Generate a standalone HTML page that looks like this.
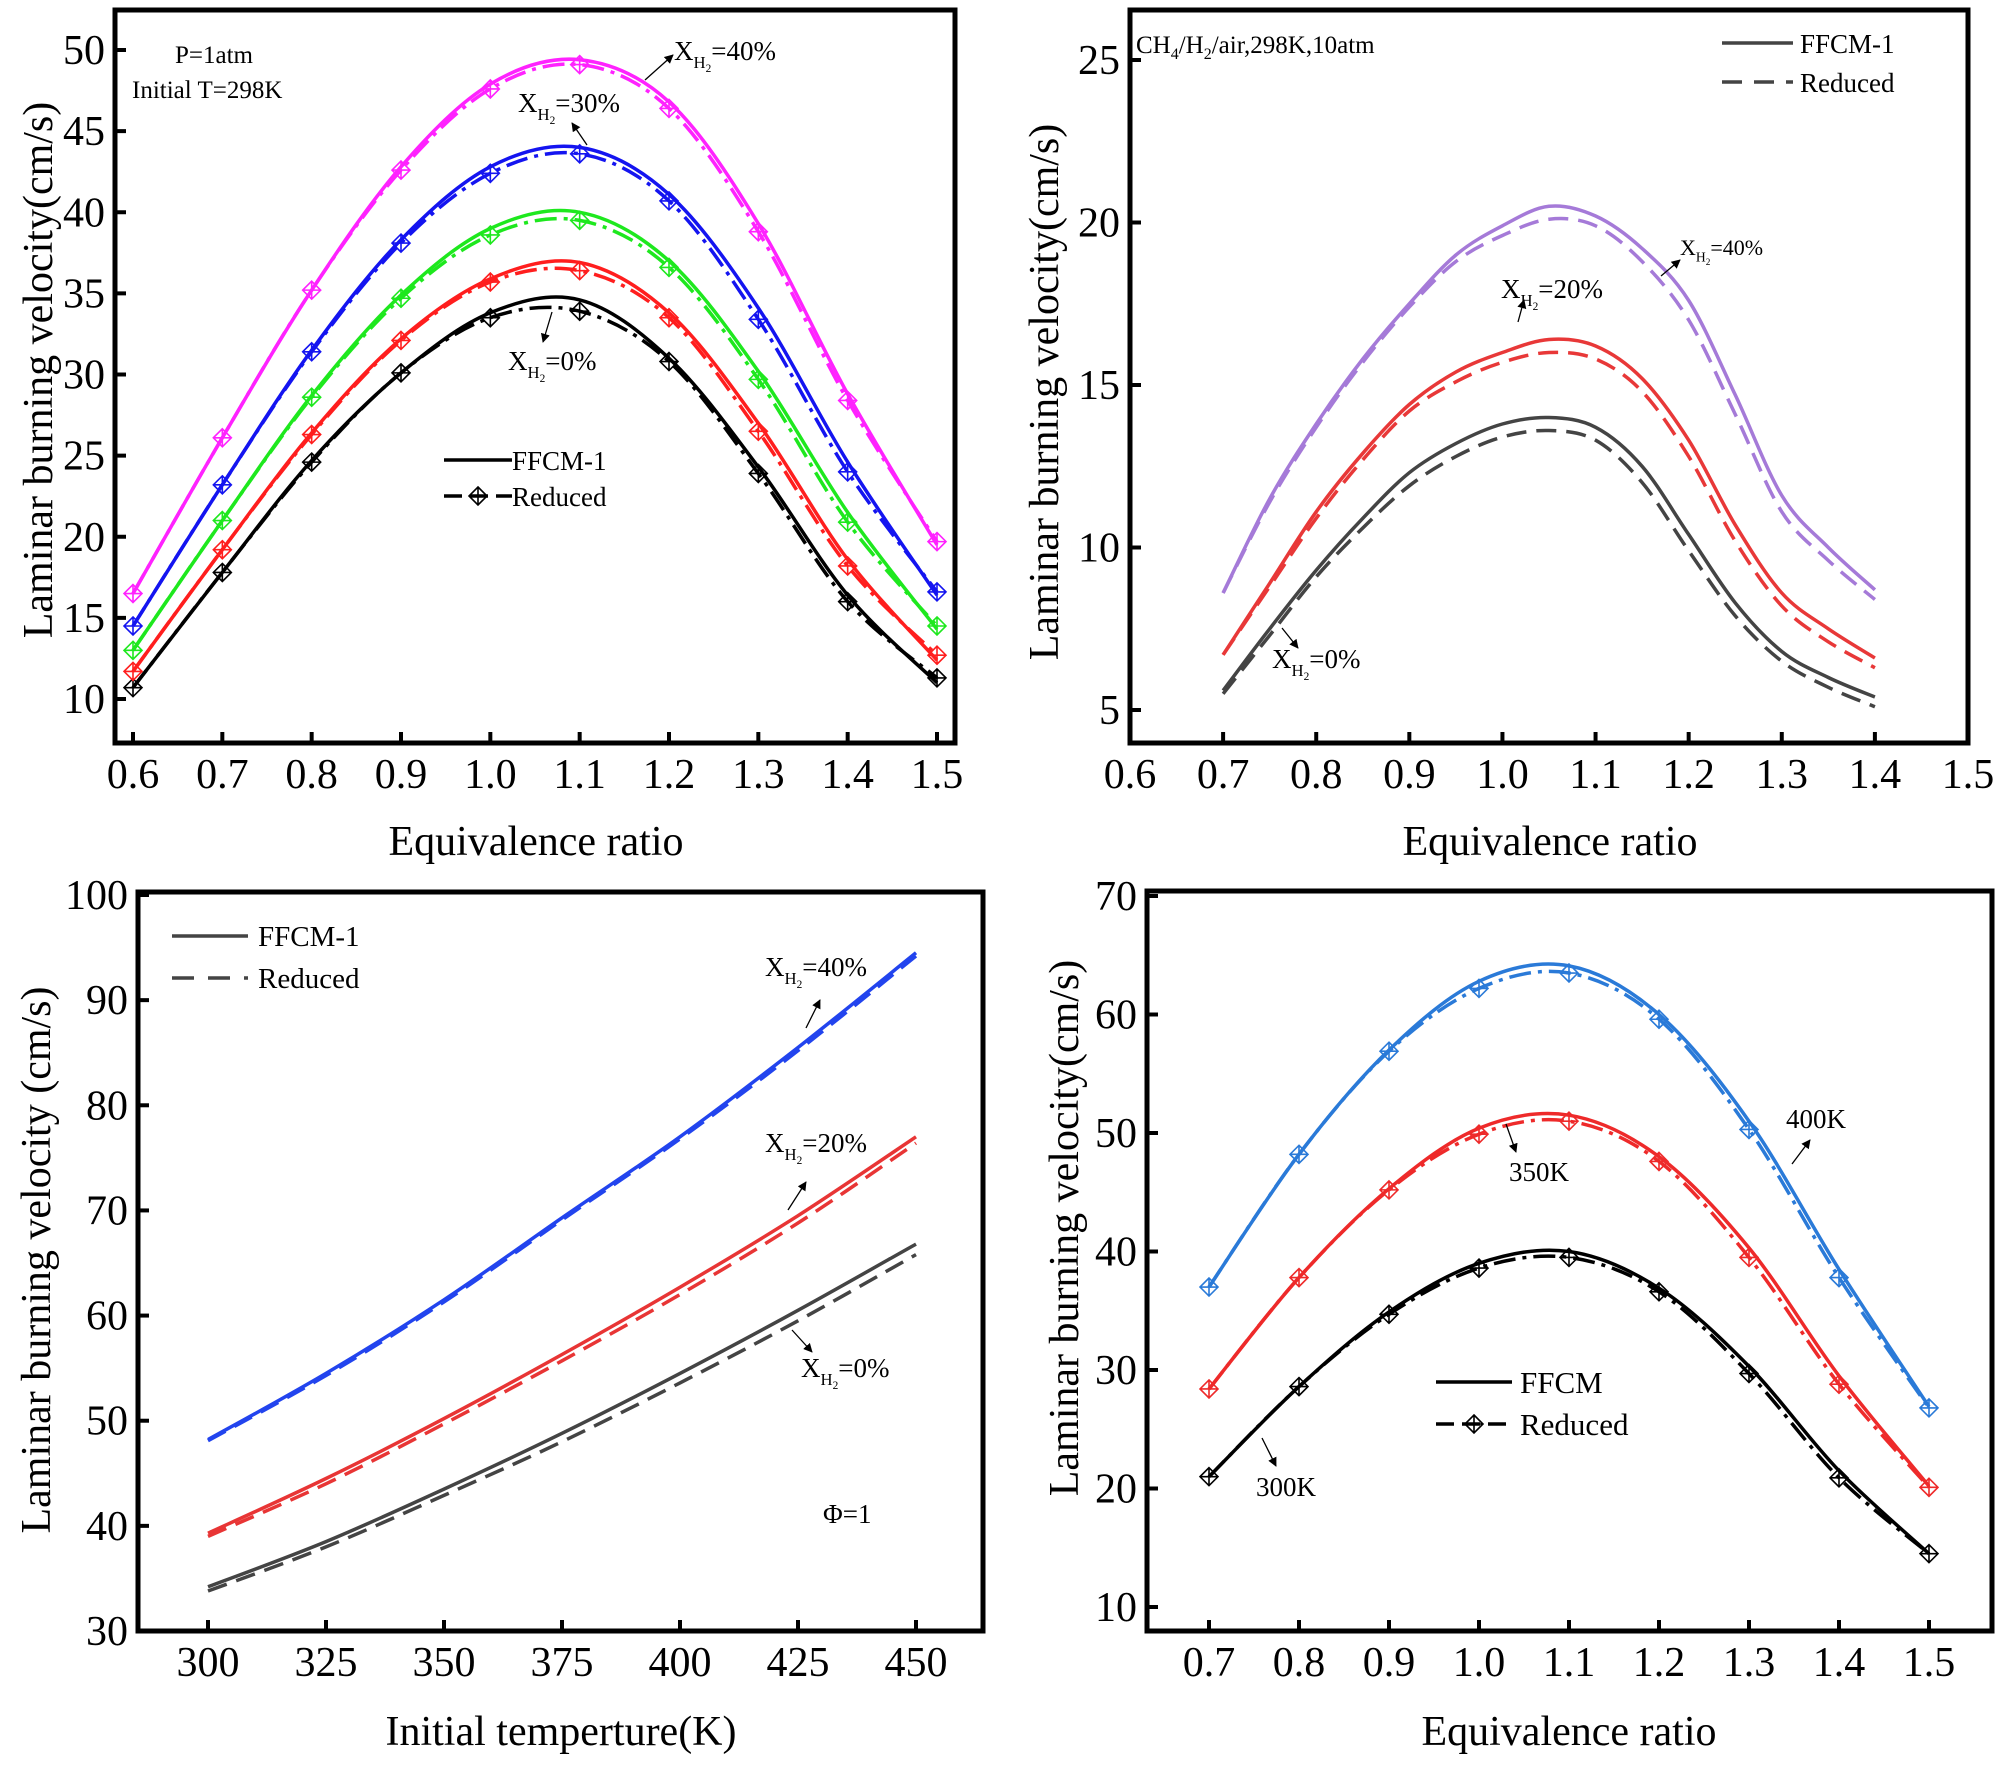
<!DOCTYPE html>
<html><head><meta charset="utf-8">
<style>
html,body{margin:0;padding:0;background:#fff;}
svg{display:block;font-family:"Liberation Serif","DejaVu Serif",serif;}
svg text{font-family:"Liberation Serif","DejaVu Serif",serif;}
</style></head>
<body>
<svg id="fig" width="2000" height="1765" viewBox="0 0 2000 1765" xmlns="http://www.w3.org/2000/svg" font-family="Liberation Serif, DejaVu Serif, serif">
<defs>
<marker id="ah" viewBox="0 0 10 10" refX="9" refY="5" markerWidth="7" markerHeight="7" orient="auto"><path d="M0,0 L10,5 L0,10 z" fill="#000"/></marker>
</defs>
</svg>
<script>
// ---------- Panel A data (1 atm, 298K) ----------
const phiA = [0.6,0.7,0.8,0.9,1.0,1.1,1.2,1.3,1.4,1.5];
const a0F = [10.7,17.8,24.7,30.1,33.8,34.6,31.0,24.3,16.4,11.0];
const a0R = [10.7,17.8,24.6,30.1,33.5,33.9,30.8,23.9,16.0,11.3];
const a20F = [11.7,19.2,26.4,32.2,35.9,36.9,33.8,27.0,18.6,12.4];
const a20R = [11.7,19.2,26.3,32.1,35.7,36.4,33.5,26.5,18.2,12.7];
const a10F = [13.0,21.0,28.7,34.9,39.0,40.0,37.0,30.2,21.5,14.3];
const a10R = [13.0,21.0,28.6,34.7,38.6,39.5,36.6,29.7,20.9,14.5];
const a30F = [14.5,23.2,31.5,38.3,42.8,44.0,41.1,34.1,24.6,16.4];
const a30R = [14.5,23.2,31.4,38.1,42.4,43.6,40.7,33.4,24.0,16.6];
const a40F = [16.5,26.1,35.2,42.8,47.9,49.4,46.8,39.3,28.8,19.5];
const a40R = [16.5,26.1,35.2,42.6,47.6,49.1,46.4,38.8,28.4,19.7];
const ticksAx = ["0.6","0.7","0.8","0.9","1.0","1.1","1.2","1.3","1.4","1.5"];
const ticksAy = [10,15,20,25,30,35,40,45,50];

// ---------- Panel B data (10 atm) ----------
const phiB = [0.7,0.75,0.8,0.85,0.9,0.95,1.0,1.05,1.1,1.15,1.2,1.25,1.3,1.35,1.4];
const b0F = [5.6,7.5,9.3,10.9,12.3,13.2,13.8,14.0,13.7,12.5,10.4,8.3,6.8,6.0,5.4];
const b0R = [5.5,7.3,9.1,10.6,11.9,12.8,13.4,13.6,13.3,12.0,9.9,7.9,6.5,5.7,5.1];
const b20F = [6.7,8.9,11.1,12.9,14.4,15.4,16.0,16.4,16.2,15.2,13.3,10.7,8.6,7.5,6.6];
const b20R = [6.7,8.8,10.9,12.7,14.2,15.1,15.7,16.0,15.8,14.8,12.8,10.2,8.2,7.1,6.3];
const b40F = [8.6,11.5,13.8,15.8,17.5,19.0,19.9,20.5,20.2,19.2,17.6,14.7,11.6,10.0,8.7];
const b40R = [8.6,11.4,13.7,15.7,17.4,18.8,19.6,20.1,19.9,18.8,17.0,14.1,11.1,9.6,8.4];
const ticksBx = ["0.6","0.7","0.8","0.9","1.0","1.1","1.2","1.3","1.4","1.5"];
const ticksBy = [5,10,15,20,25];

// ---------- Panel C data (temperature) ----------
const tempC = [300,325,350,375,400,425,450];
const c40F = [48.2,54.5,61.5,69.3,77.0,85.5,94.5];
const c40R = [48.1,54.3,61.3,69.1,76.8,85.2,94.2];
const c20F = [39.3,44.5,50.2,56.3,62.7,69.5,77.0];
const c20R = [39.0,44.0,49.7,55.7,62.0,68.8,76.4];
const c0F = [34.2,38.5,43.5,48.8,54.5,60.5,66.8];
const c0R = [33.8,38.0,42.9,48.0,53.6,59.5,65.8];
const ticksCx = [300,325,350,375,400,425,450];
const ticksCy = [30,40,50,60,70,80,90,100];

// ---------- Panel D data (temperatures vs phi) ----------
const phiD = [0.7,0.8,0.9,1.0,1.1,1.2,1.3,1.4,1.5];
const d400F = [37.0,48.2,57.0,62.8,64.1,60.0,51.0,38.5,26.9];
const d400R = [37.0,48.2,56.9,62.2,63.5,59.6,50.3,37.8,26.8];
const d350F = [28.4,37.8,45.3,50.4,51.5,48.0,40.3,29.5,20.2];
const d350R = [28.4,37.8,45.2,49.9,51.0,47.6,39.5,28.8,20.1];
const d300F = [21.0,28.6,34.9,39.0,40.0,36.9,30.3,21.5,14.5];
const d300R = [21.0,28.6,34.7,38.6,39.5,36.6,29.7,20.9,14.5];
const ticksDx = ["0.7","0.8","0.9","1.0","1.1","1.2","1.3","1.4","1.5"];
const ticksDy = [10,20,30,40,50,60,70];

const svg = document.getElementById('fig');
const NS = 'http://www.w3.org/2000/svg';
const FONT = '"Liberation Serif", "DejaVu Serif", serif';
function mk(tag, attrs, parent){
  const e = document.createElementNS(NS, tag);
  for (const k in attrs) e.setAttribute(k, attrs[k]);
  (parent||svg).appendChild(e);
  return e;
}
function scale(d0,d1,r0,r1){ return v => r0 + (v-d0)*(r1-r0)/(d1-d0); }
function smoothPath(pts){
  let d = 'M'+pts[0][0].toFixed(1)+','+pts[0][1].toFixed(1);
  for (let i=0;i<pts.length-1;i++){
    const p0=pts[i-1]||pts[i], p1=pts[i], p2=pts[i+1], p3=pts[i+2]||p2;
    const c1=[p1[0]+(p2[0]-p0[0])/6, p1[1]+(p2[1]-p0[1])/6];
    const c2=[p2[0]-(p3[0]-p1[0])/6, p2[1]-(p3[1]-p1[1])/6];
    d+=' C'+c1[0].toFixed(1)+','+c1[1].toFixed(1)+' '+c2[0].toFixed(1)+','+c2[1].toFixed(1)+' '+p2[0].toFixed(1)+','+p2[1].toFixed(1);
  }
  return d;
}
function diamond(g,x,y,color,s){
  s=s||9;
  mk('path',{d:`M${x},${y-s} L${x+s},${y} L${x},${y+s} L${x-s},${y} Z M${x-s},${y} L${x+s},${y} M${x},${y-s} L${x},${y+s}`,fill:'none',stroke:color,'stroke-width':1.6},g);
}
function series(g,xs,ys,X,Y,color,dash,markers,name){
  const pts = xs.map((v,i)=>[X(v),Y(ys[i])]);
  const p = mk('path',{d:smoothPath(pts),fill:'none',stroke:color,'stroke-width':3.5},g);
  
  
  if (dash) p.setAttribute('stroke-dasharray', dash);
  if (markers) pts.forEach(q=>diamond(g,q[0],q[1],color));
}
function text(g,x,y,str,size,anchor,name){
  const t = mk('text',{x:x,y:y,'font-size':size,'text-anchor':anchor||'start',fill:'#000','font-family':FONT},g);
  t.textContent = str;
  
  
  return t;
}
function xh2(g,x,y,pct,size,name){
  const t = mk('text',{x:x,y:y,'font-size':size,fill:'#000','font-family':FONT},g);
  
  
  t.innerHTML = 'X<tspan font-size="'+(size*0.62)+'" dy="'+(size*0.3)+'">H</tspan><tspan font-size="'+(size*0.42)+'" dy="'+(size*0.15)+'">2</tspan><tspan dy="'+(-size*0.45)+'">='+pct+'</tspan>';
}
function arrow(g,x1,y1,x2,y2,name){
  const l = mk('line',{x1:x1,y1:y1,x2:x2,y2:y2,stroke:'#000','stroke-width':1.3,'marker-end':'url(#ah)'},g);
  
  
}
function axes(g,fr,X,Y,xt,yt,xlab,ylab,ytitlePos,xtitlePos,xtickVals){
  const f = mk('rect',{x:fr.l,y:fr.t,width:fr.r-fr.l,height:fr.b-fr.t,fill:'none',stroke:'#000','stroke-width':5},g);
  
  
  xt.forEach((lab,i)=>{
    const v = xtickVals ? xtickVals[i] : parseFloat(lab);
    const x = X(v);
    mk('line',{x1:x,y1:fr.b,x2:x,y2:fr.b-11,stroke:'#000','stroke-width':4},g);
    text(g,x,fr.b+45,String(lab),42,'middle','x-tick-label');
  });
  yt.forEach(v=>{
    const y = Y(v);
    mk('line',{x1:fr.l,y1:y,x2:fr.l+11,y2:y,stroke:'#000','stroke-width':4},g);
    text(g,fr.l-10,y+14,String(v),42,'end','y-tick-label');
  });
  text(g,xtitlePos[0],xtitlePos[1],xlab,42,'middle','x-axis-title');
  const yl = text(g,0,0,ylab,42,'middle','y-axis-title');
  yl.setAttribute('transform','translate('+ytitlePos[0]+','+ytitlePos[1]+') rotate(-90)');
}
function panel(name){
  const g = mk('g',{});
  
  
  return g;
}

// ===== Panel A =====
(function(){
  const g = panel('panel-a-1atm-chart');
  const fr={l:115,r:955,t:10,b:743};
  const X=scale(0.6,1.5,133,937), Y=scale(10,50,699,50);
  axes(g,fr,X,Y,ticksAx,ticksAy,'Equivalence ratio','Laminar burning velocity(cm/s)',[52,370],[536,855]);
  const dd='22,7,4,7';
  series(g,phiA,a0R,X,Y,'#000',dd,true,'reduced-0pct');
  series(g,phiA,a0F,X,Y,'#000',null,false,'ffcm-0pct');
  series(g,phiA,a20R,X,Y,'#ff1e1e',dd,true,'reduced-red');
  series(g,phiA,a20F,X,Y,'#ff1e1e',null,false,'ffcm-red');
  series(g,phiA,a10R,X,Y,'#1ee81e',dd,true,'reduced-green');
  series(g,phiA,a10F,X,Y,'#1ee81e',null,false,'ffcm-green');
  series(g,phiA,a30R,X,Y,'#1414f0',dd,true,'reduced-30pct');
  series(g,phiA,a30F,X,Y,'#1414f0',null,false,'ffcm-30pct');
  series(g,phiA,a40R,X,Y,'#ff22ff',dd,true,'reduced-40pct');
  series(g,phiA,a40F,X,Y,'#ff22ff',null,false,'ffcm-40pct');
  text(g,175,63,'P=1atm',25,'start','pressure-note');
  text(g,132,98,'Initial T=298K',25,'start','temperature-note');
  xh2(g,674,60,'40%',27,'label-40pct'); arrow(g,645,80,673,55,'arrow-40pct');
  xh2(g,518,112,'30%',27,'label-30pct'); arrow(g,587,145,572,123,'arrow-30pct');
  xh2(g,508,370,'0%',27,'label-0pct'); arrow(g,552,312,543,342,'arrow-0pct');
  const lg = panel('legend-a');
  g.appendChild(lg);
  mk('line',{x1:444,y1:460,x2:512,y2:460,stroke:'#000','stroke-width':3.5},lg);
  text(lg,512,470,'FFCM-1',27,'start','legend-ffcm');
  mk('line',{x1:444,y1:496,x2:512,y2:496,stroke:'#000','stroke-width':3.5,'stroke-dasharray':'18,8'},lg);
  diamond(lg,478,496,'#000');
  text(lg,512,506,'Reduced',27,'start','legend-reduced');
})();

// ===== Panel B =====
(function(){
  const g = panel('panel-b-10atm-chart');
  const fr={l:1130,r:1968,t:10,b:743};
  const X=scale(0.6,1.5,1130,1968), Y=scale(5,25,710,60);
  axes(g,fr,X,Y,ticksBx,ticksBy,'Equivalence ratio','Laminar burning velocity(cm/s)',[1058,392],[1550,855]);
  const dd='20,10';
  series(g,phiB,b0R,X,Y,'#444',dd,false,'reduced-0pct');
  series(g,phiB,b0F,X,Y,'#444',null,false,'ffcm-0pct');
  series(g,phiB,b20R,X,Y,'#e83838',dd,false,'reduced-20pct');
  series(g,phiB,b20F,X,Y,'#e83838',null,false,'ffcm-20pct');
  series(g,phiB,b40R,X,Y,'#a57ad8',dd,false,'reduced-40pct');
  series(g,phiB,b40F,X,Y,'#a57ad8',null,false,'ffcm-40pct');
  const t = mk('text',{x:1136,y:53,'font-size':25,fill:'#000','font-family':FONT},g);
  
  
  t.innerHTML='CH<tspan font-size="16" dy="6">4</tspan><tspan dy="-6">/H</tspan><tspan font-size="16" dy="6">2</tspan><tspan dy="-6">/air,298K,10atm</tspan>';
  xh2(g,1680,255,'40%',22,'label-40pct'); arrow(g,1661,276,1680,260,'arrow-40pct');
  xh2(g,1501,298,'20%',27,'label-20pct'); arrow(g,1518,322,1524,300,'arrow-20pct');
  xh2(g,1272,668,'0%',27,'label-0pct'); arrow(g,1282,628,1298,648,'arrow-0pct');
  const lg = panel('legend-b'); g.appendChild(lg);
  mk('line',{x1:1722,y1:43,x2:1793,y2:43,stroke:'#444','stroke-width':3.5},lg);
  text(lg,1800,53,'FFCM-1',27,'start','legend-ffcm');
  mk('line',{x1:1722,y1:82,x2:1793,y2:82,stroke:'#444','stroke-width':3.5,'stroke-dasharray':'20,12'},lg);
  text(lg,1800,92,'Reduced',27,'start','legend-reduced');
})();

// ===== Panel C =====
(function(){
  const g = panel('panel-c-temperature-chart');
  const fr={l:138,r:983,t:892,b:1631};
  const X=scale(300,450,208,916), Y=scale(30,100,1631,895);
  axes(g,fr,X,Y,ticksCx,ticksCy,'Initial temperture(K)','Laminar burning velocity (cm/s)',[50,1260],[561,1745],ticksCx);
  const dd='20,10';
  series(g,tempC,c0R,X,Y,'#444',dd,false,'reduced-0pct');
  series(g,tempC,c0F,X,Y,'#444',null,false,'ffcm-0pct');
  series(g,tempC,c20R,X,Y,'#e83535',dd,false,'reduced-20pct');
  series(g,tempC,c20F,X,Y,'#e83535',null,false,'ffcm-20pct');
  series(g,tempC,c40R,X,Y,'#2244ee',dd,false,'reduced-40pct');
  series(g,tempC,c40F,X,Y,'#2244ee',null,false,'ffcm-40pct');
  xh2(g,765,976,'40%',27,'label-40pct'); arrow(g,806,1028,820,1000,'arrow-40pct');
  xh2(g,765,1152,'20%',27,'label-20pct'); arrow(g,788,1210,806,1182,'arrow-20pct');
  xh2(g,801,1377,'0%',27,'label-0pct'); arrow(g,792,1330,812,1352,'arrow-0pct');
  text(g,823,1523,'Φ=1',27,'start','phi-note');
  const lg = panel('legend-c'); g.appendChild(lg);
  mk('line',{x1:172,y1:936,x2:248,y2:936,stroke:'#444','stroke-width':3.5},lg);
  text(lg,258,946,'FFCM-1',29,'start','legend-ffcm');
  mk('line',{x1:172,y1:978,x2:248,y2:978,stroke:'#444','stroke-width':3.5,'stroke-dasharray':'22,14'},lg);
  text(lg,258,988,'Reduced',29,'start','legend-reduced');
})();

// ===== Panel D =====
(function(){
  const g = panel('panel-d-initial-temperature-chart');
  const fr={l:1147,r:1992,t:891,b:1631};
  const X=scale(0.7,1.5,1209,1929), Y=scale(10,70,1607,896);
  axes(g,fr,X,Y,ticksDx,ticksDy,'Equivalence ratio','Laminar burning velocity(cm/s)',[1078,1228],[1569,1745]);
  const dd='22,7,4,7';
  series(g,phiD,d300R,X,Y,'#000',dd,true,'reduced-300k');
  series(g,phiD,d300F,X,Y,'#000',null,false,'ffcm-300k');
  series(g,phiD,d350R,X,Y,'#ee2a2a',dd,true,'reduced-350k');
  series(g,phiD,d350F,X,Y,'#ee2a2a',null,false,'ffcm-350k');
  series(g,phiD,d400R,X,Y,'#2a7ad8',dd,true,'reduced-400k');
  series(g,phiD,d400F,X,Y,'#2a7ad8',null,false,'ffcm-400k');
  text(g,1786,1128,'400K',27,'start','label-400k'); arrow(g,1792,1164,1810,1140,'arrow-400k');
  text(g,1509,1181,'350K',27,'start','label-350k'); arrow(g,1506,1124,1516,1152,'arrow-350k');
  text(g,1256,1496,'300K',27,'start','label-300k'); arrow(g,1262,1438,1276,1466,'arrow-300k');
  const lg = panel('legend-d'); g.appendChild(lg);
  mk('line',{x1:1436,y1:1382,x2:1512,y2:1382,stroke:'#000','stroke-width':3.5},lg);
  text(lg,1520,1393,'FFCM',31,'start','legend-ffcm');
  mk('line',{x1:1436,y1:1424,x2:1512,y2:1424,stroke:'#000','stroke-width':3.5,'stroke-dasharray':'18,8'},lg);
  diamond(lg,1474,1424,'#000');
  text(lg,1520,1435,'Reduced',31,'start','legend-reduced');
})();
</script>
</body></html>
